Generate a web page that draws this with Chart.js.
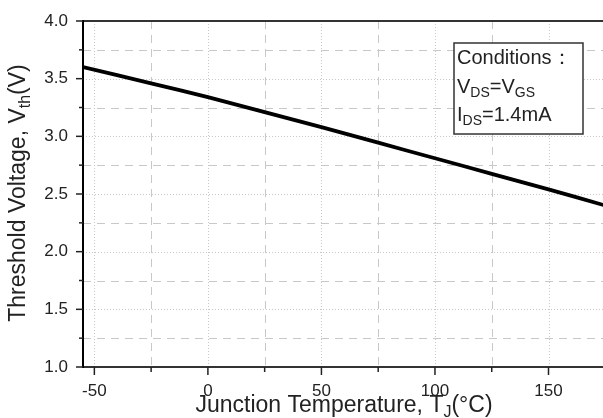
<!DOCTYPE html>
<html>
<head>
<meta charset="utf-8">
<script src="https://cdn.jsdelivr.net/npm/chart.js@4/dist/chart.umd.min.js"></script>
<style>
  html, body { margin: 0; padding: 0; background: #fff; }
  #wrap { width: 603px; height: 418px; }
</style>
</head>
<body>
<div id="wrap"><canvas id="vthChart" width="603" height="418"></canvas></div>
<script>
// threshold voltage vs junction temperature
var temps = [-55, -25, 0, 25, 50, 75, 100, 125, 150, 175];
var vth = [3.60, 3.46, 3.34, 3.21, 3.08, 2.945, 2.81, 2.675, 2.54, 2.40];

var xTicks = [-50, 0, 50, 100, 150];
var xMinor = [-25, 25, 75, 125];
var yTicks = [1.0, 1.5, 2.0, 2.5, 3.0, 3.5, 4.0];
var yMinor = [1.25, 1.75, 2.25, 2.75, 3.25, 3.75];

var FONT = '"Liberation Sans", Arial, sans-serif';

// text with subscripts: parts = [[text, isSub], ...]
function drawRich(ctx, parts, x, y, size, subSize, align) {
    var w = 0;
    parts.forEach(function (p) {
        ctx.font = (p[1] ? subSize : size) + 'px ' + FONT;
        w += ctx.measureText(p[0]).width;
    });
    var cx = align === 'center' ? x - w / 2 : x;
    ctx.textAlign = 'left';
    ctx.textBaseline = 'alphabetic';
    parts.forEach(function (p) {
        ctx.font = (p[1] ? subSize : size) + 'px ' + FONT;
        ctx.fillText(p[0], cx, p[1] ? y + size * 0.22 : y);
        cx += ctx.measureText(p[0]).width;
    });
}

var framePlugin = {
    id: 'frame',
    beforeDatasetsDraw: function (chart) {
        var ctx = chart.ctx, a = chart.chartArea;
        var xs = chart.scales.x, ys = chart.scales.y;
        ctx.save();
        ctx.strokeStyle = '#c8c8c8';
        ctx.lineWidth = 1;
        // minor grid dashed
        ctx.setLineDash([8, 6]);
        xMinor.forEach(function (v) {
            var px = Math.round(xs.getPixelForValue(v)) + 0.5;
            ctx.beginPath(); ctx.moveTo(px, a.top); ctx.lineTo(px, a.bottom); ctx.stroke();
        });
        yMinor.forEach(function (v) {
            var py = Math.round(ys.getPixelForValue(v)) + 0.5;
            ctx.beginPath(); ctx.moveTo(a.left, py); ctx.lineTo(a.right, py); ctx.stroke();
        });
        // major grid dotted
        ctx.setLineDash([1, 2]);
        xTicks.forEach(function (v) {
            var px = Math.round(xs.getPixelForValue(v)) + 0.5;
            ctx.beginPath(); ctx.moveTo(px, a.top); ctx.lineTo(px, a.bottom); ctx.stroke();
        });
        yTicks.forEach(function (v) {
            var py = Math.round(ys.getPixelForValue(v)) + 0.5;
            ctx.beginPath(); ctx.moveTo(a.left, py); ctx.lineTo(a.right, py); ctx.stroke();
        });
        ctx.restore();
    },
    afterDraw: function (chart) {
        var ctx = chart.ctx, a = chart.chartArea;
        var xs = chart.scales.x, ys = chart.scales.y;
        ctx.save();
        // axes frame
        ctx.lineWidth = 2;
        ctx.strokeStyle = '#333';
        ctx.beginPath(); ctx.moveTo(a.left, a.top); ctx.lineTo(a.right, a.top); ctx.stroke();
        ctx.beginPath(); ctx.moveTo(a.left, a.bottom); ctx.lineTo(a.right, a.bottom); ctx.stroke();
        ctx.strokeStyle = '#000';
        ctx.beginPath(); ctx.moveTo(a.left, a.top - 1); ctx.lineTo(a.left, a.bottom + 1); ctx.stroke();
        // tick marks
        ctx.lineWidth = 1.5;
        ctx.strokeStyle = '#222';
        xTicks.forEach(function (v) {
            var px = xs.getPixelForValue(v);
            ctx.beginPath(); ctx.moveTo(px, a.bottom); ctx.lineTo(px, a.bottom + 8); ctx.stroke();
        });
        xMinor.forEach(function (v) {
            var px = xs.getPixelForValue(v);
            ctx.beginPath(); ctx.moveTo(px, a.bottom); ctx.lineTo(px, a.bottom + 5); ctx.stroke();
        });
        yTicks.forEach(function (v) {
            var py = ys.getPixelForValue(v);
            ctx.beginPath(); ctx.moveTo(a.left - 7, py); ctx.lineTo(a.left, py); ctx.stroke();
        });
        yMinor.forEach(function (v) {
            var py = ys.getPixelForValue(v);
            ctx.beginPath(); ctx.moveTo(a.left - 4, py); ctx.lineTo(a.left, py); ctx.stroke();
        });

        // axis titles
        ctx.fillStyle = '#222';
        drawRich(ctx, [['Junction Temperature, T', false], ['J', true], ['(\u00B0C)', false]],
            344, 412, 23, 16, 'center');
        ctx.save();
        ctx.translate(25, 193);
        ctx.rotate(-Math.PI / 2);
        drawRich(ctx, [['Threshold Voltage, V', false], ['th', true], ['(V)', false]],
            0, 0, 23, 16, 'center');
        ctx.restore();

        // conditions box
        ctx.fillStyle = '#fff';
        ctx.fillRect(454, 43, 129, 91);
        ctx.lineWidth = 1.5;
        ctx.strokeStyle = '#333';
        ctx.strokeRect(454, 43, 129, 91);
        ctx.fillStyle = '#222';
        drawRich(ctx, [['Conditions\uFF1A', false]], 457, 64, 20, 14, 'left');
        drawRich(ctx, [['V', false], ['DS', true], ['=V', false], ['GS', true]], 457, 93, 20, 14, 'left');
        drawRich(ctx, [['I', false], ['DS', true], ['=1.4mA', false]], 457, 121, 20, 14, 'left');
        ctx.restore();
    }
};

var ctxVth = document.getElementById('vthChart').getContext('2d');
var vthChart = new Chart(ctxVth, {
    type: 'line',
    data: {
        datasets: [{
            label: 'Threshold Voltage',
            data: temps.map(function (t, i) { return { x: t, y: vth[i] }; }),
            borderColor: '#000',
            borderWidth: 3.8,
            pointRadius: 0,
            fill: false,
            tension: 0.3
        }]
    },
    options: {
        responsive: false,
        animation: false,
        layout: { padding: { top: 21, right: 0, left: 0, bottom: 0 } },
        plugins: {
            legend: { display: false },
            tooltip: { enabled: false }
        },
        scales: {
            x: {
                type: 'linear',
                min: -55,
                max: 174,
                afterBuildTicks: function (s) { s.ticks = xTicks.map(function (v) { return { value: v }; }); },
                afterFit: function (s) { s.height = 51; },
                grid: { display: false },
                border: { display: false },
                ticks: {
                    padding: 6,
                    color: '#222',
                    font: { family: FONT, size: 17 },
                    maxRotation: 0,
                    callback: function (v) { return String(v); }
                }
            },
            y: {
                type: 'linear',
                min: 1.0,
                max: 4.0,
                afterBuildTicks: function (s) { s.ticks = yTicks.map(function (v) { return { value: v }; }); },
                afterFit: function (s) { s.width = 83; },
                grid: { display: false },
                border: { display: false },
                ticks: {
                    padding: 7,
                    color: '#222',
                    font: { family: FONT, size: 17 },
                    callback: function (v) { return v.toFixed(1); }
                }
            }
        }
    },
    plugins: [framePlugin]
});
</script>
</body>
</html>
